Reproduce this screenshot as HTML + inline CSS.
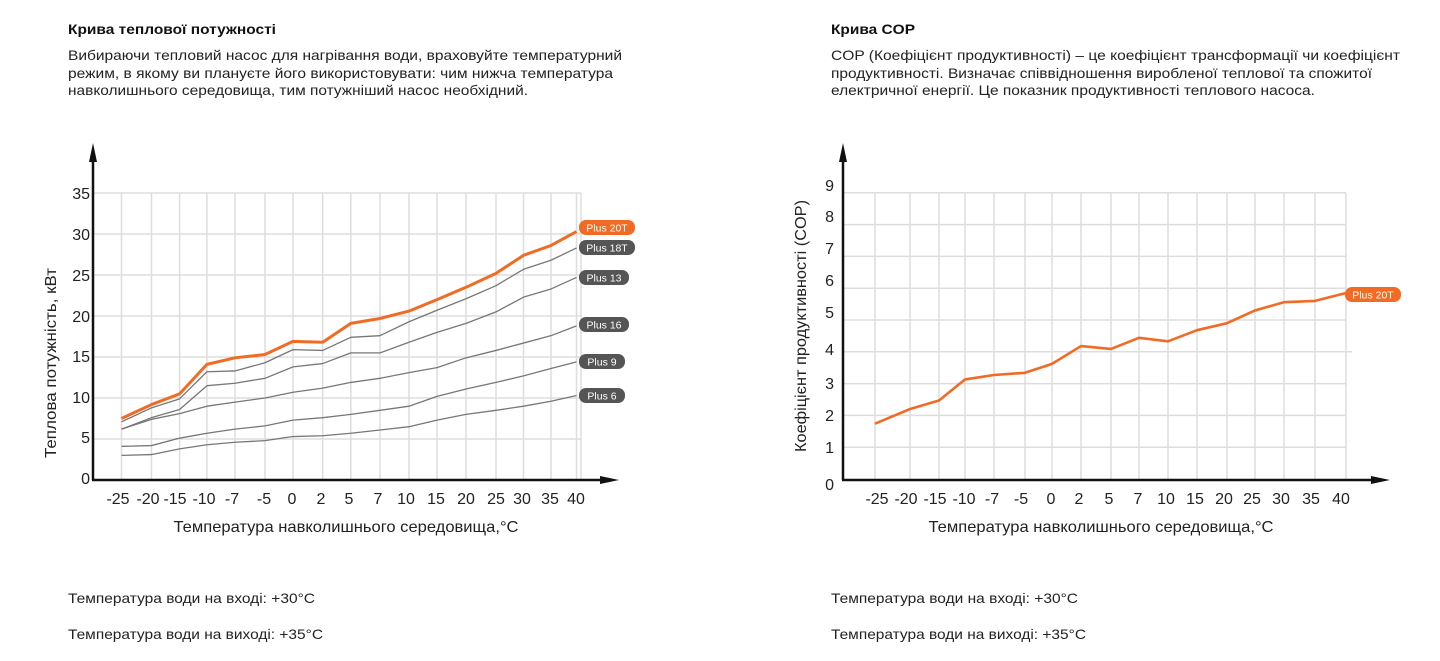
<!DOCTYPE html>
<html><head><meta charset="utf-8"><style>
body{margin:0;background:#fff;width:1440px;height:661px;overflow:hidden}
svg{display:block;font-family:"Liberation Sans",Arial,sans-serif}
</style></head><body>
<svg id="s" width="1440" height="661" viewBox="0 0 1440 661">
<g font-size="14" fill="#222">
<text x="68" y="34" font-weight="bold" font-size="14" fill="#111" textLength="208" lengthAdjust="spacingAndGlyphs">Крива теплової потужності</text>
<text x="68" y="60" textLength="554" lengthAdjust="spacingAndGlyphs">Вибираючи тепловий насос для нагрівання води, враховуйте температурний</text>
<text x="68" y="78" textLength="545" lengthAdjust="spacingAndGlyphs">режим, в якому ви плануєте його використовувати: чим нижча температура</text>
<text x="68" y="95" textLength="460" lengthAdjust="spacingAndGlyphs">навколишнього середовища, тим потужніший насос необхідний.</text>
<text x="831" y="34" font-weight="bold" font-size="14" fill="#111" textLength="84" lengthAdjust="spacingAndGlyphs">Крива COP</text>
<text x="831" y="60" textLength="569" lengthAdjust="spacingAndGlyphs">COP (Коефіцієнт продуктивності) – це коефіцієнт трансформації чи коефіцієнт</text>
<text x="831" y="78" textLength="541" lengthAdjust="spacingAndGlyphs">продуктивності. Визначає співвідношення виробленої теплової та спожитої</text>
<text x="831" y="95" textLength="484" lengthAdjust="spacingAndGlyphs">електричної енергії. Це показник продуктивності теплового насоса.</text>
<text x="68" y="603" textLength="247" lengthAdjust="spacingAndGlyphs">Температура води на вході: +30°C</text>
<text x="68" y="639" textLength="255" lengthAdjust="spacingAndGlyphs">Температура води на виході: +35°C</text>
<text x="831" y="603" textLength="247" lengthAdjust="spacingAndGlyphs">Температура води на вході: +30°C</text>
<text x="831" y="639" textLength="255" lengthAdjust="spacingAndGlyphs">Температура води на виході: +35°C</text>
</g>
<g id="g1" stroke="#ddd" stroke-width="1.5" fill="none"></g>
<g id="g2" stroke="#ddd" stroke-width="1.5" fill="none"></g>
<g stroke="#111" stroke-width="2.5">
<line x1="93" y1="152" x2="93" y2="480"/><line x1="92" y1="480" x2="610" y2="480"/>
<line x1="843" y1="152" x2="843" y2="480"/><line x1="842" y1="480" x2="1380" y2="480"/>
</g>
<g fill="#111">
<polygon points="93,143 89,162 97,162"/><polygon points="619,480 600,476 600,484"/>
<polygon points="843,143 839,162 847,162"/><polygon points="1390,480 1371,476 1371,484"/>
</g>
<g font-size="16" fill="#222" text-anchor="end">
<text x="90" y="199">35</text><text x="90" y="240">30</text><text x="90" y="281">25</text><text x="90" y="322">20</text><text x="90" y="362">15</text><text x="90" y="403">10</text><text x="90" y="443">5</text><text x="90" y="484">0</text>
<text x="834" y="191">9</text><text x="834" y="222">8</text><text x="834" y="254">7</text><text x="834" y="286">6</text><text x="834" y="318">5</text><text x="834" y="355">4</text><text x="834" y="389">3</text><text x="834" y="421">2</text><text x="834" y="453">1</text><text x="834" y="490">0</text>
</g>
<g font-size="16" fill="#222" text-anchor="middle">
<text x="118" y="504">-25</text><text x="148" y="504">-20</text><text x="175" y="504">-15</text><text x="204" y="504">-10</text><text x="232" y="504">-7</text><text x="264" y="504">-5</text><text x="292" y="504">0</text><text x="321" y="504">2</text><text x="349" y="504">5</text><text x="378" y="504">7</text><text x="406" y="504">10</text><text x="436" y="504">15</text><text x="466" y="504">20</text><text x="496" y="504">25</text><text x="522" y="504">30</text><text x="550" y="504">35</text><text x="576" y="504">40</text>
<text x="877" y="504">-25</text><text x="906" y="504">-20</text><text x="935" y="504">-15</text><text x="964" y="504">-10</text><text x="992" y="504">-7</text><text x="1021" y="504">-5</text><text x="1051" y="504">0</text><text x="1079" y="504">2</text><text x="1109" y="504">5</text><text x="1138" y="504">7</text><text x="1166" y="504">10</text><text x="1195" y="504">15</text><text x="1224" y="504">20</text><text x="1252" y="504">25</text><text x="1281" y="504">30</text><text x="1311" y="504">35</text><text x="1341" y="504">40</text>
<text x="346" y="532" textLength="345" lengthAdjust="spacingAndGlyphs">Температура навколишнього середовища,°C</text>
<text x="1101" y="532" textLength="345" lengthAdjust="spacingAndGlyphs">Температура навколишнього середовища,°C</text>
<text transform="translate(56,363) rotate(-90)" textLength="190" lengthAdjust="spacingAndGlyphs">Теплова потужність, кВт</text>
<text transform="translate(806,326) rotate(-90)" textLength="252" lengthAdjust="spacingAndGlyphs">Коефіцієнт продуктивності (COP)</text>
</g>
<g id="lines"></g>
<g font-size="10.5" fill="#fff" text-anchor="middle">
<rect x="579" y="220" width="56" height="15" rx="7" fill="#f26b24"/><text x="607" y="231.5">Plus 20T</text>
<rect x="579" y="240" width="56" height="15" rx="7" fill="#555"/><text x="607" y="251.5">Plus 18T</text>
<rect x="579" y="270" width="50" height="15" rx="7" fill="#555"/><text x="604" y="281.5">Plus 13</text>
<rect x="579" y="317" width="50" height="15" rx="7" fill="#555"/><text x="604" y="328.5">Plus 16</text>
<rect x="579" y="354" width="46" height="15" rx="7" fill="#555"/><text x="602" y="365.5">Plus 9</text>
<rect x="579" y="388" width="46" height="15" rx="7" fill="#555"/><text x="602" y="399.5">Plus 6</text>
<rect x="1345" y="287" width="56" height="15" rx="7" fill="#f26b24"/><text x="1373" y="298.5">Plus 20T</text>
</g>
</svg>
<script>
var NS="http://www.w3.org/2000/svg";
function el(p,t,a){var e=document.createElementNS(NS,t);for(var k in a)e.setAttribute(k,a[k]);p.appendChild(e);return e;}
var X1=[121.5,151.5,179.6,206.9,235,265,293,322.7,350.8,380,409,437,466,496,523.5,551,576.5];
var X2=[875,910,939,965,994,1025,1052,1081,1111,1139,1168,1197,1227,1255,1284,1315,1346];
var g1=document.getElementById('g1'),g2=document.getElementById('g2');
X1.forEach(function(x){el(g1,'line',{x1:x,y1:193,x2:x,y2:480});});
el(g1,'line',{x1:581,y1:193,x2:581,y2:480});
for(var v=5;v<=35;v+=5){var y=480-v*8.2;el(g1,'line',{x1:93,y1:y,x2:581,y2:y});}
X2.forEach(function(x){el(g2,'line',{x1:x,y1:193,x2:x,y2:480});});
for(var v=1;v<=9;v++){var y=479-v*31.8;el(g2,'line',{x1:843,y1:y,x2:v==4?1352:1346,y2:y});}
var L=document.getElementById('lines');
function pl(X,d,f,c,w){el(L,'polyline',{points:d.map(function(v,i){return X[i]+','+f(v);}).join(' '),stroke:c,'stroke-width':w,fill:'none','stroke-linejoin':'round'});}
var f1=function(v){return 480-v*8.2;};
var gs=[[3.0,3.1,3.8,4.3,4.6,4.8,5.3,5.4,5.7,6.1,6.5,7.3,8.0,8.5,9.0,9.6,10.3],
[4.1,4.2,5.1,5.7,6.2,6.6,7.3,7.6,8.0,8.5,9.0,10.2,11.1,11.9,12.7,13.6,14.4],
[6.2,7.4,8.1,9.0,9.5,10.0,10.7,11.2,11.9,12.4,13.1,13.7,14.9,15.8,16.7,17.6,18.8],
[6.2,7.6,8.6,11.5,11.8,12.4,13.8,14.2,15.5,15.5,16.8,18.0,19.1,20.5,22.3,23.3,24.7],
[7.1,8.8,9.9,13.2,13.3,14.3,15.9,15.8,17.4,17.6,19.3,20.7,22.1,23.7,25.7,26.8,28.3]];
gs.forEach(function(d){pl(X1,d,f1,'#777',1.3);});
pl(X1,[7.5,9.2,10.5,14.1,14.9,15.3,16.9,16.8,19.1,19.7,20.6,22.0,23.5,25.2,27.4,28.6,30.3],f1,'#f26b24',3);
pl(X2,[1.74,2.2,2.47,3.13,3.27,3.34,3.62,4.18,4.09,4.44,4.33,4.68,4.9,5.3,5.56,5.6,5.85],function(v){return 479-v*31.8;},'#f26b24',2.6);
</script>
</body></html>
